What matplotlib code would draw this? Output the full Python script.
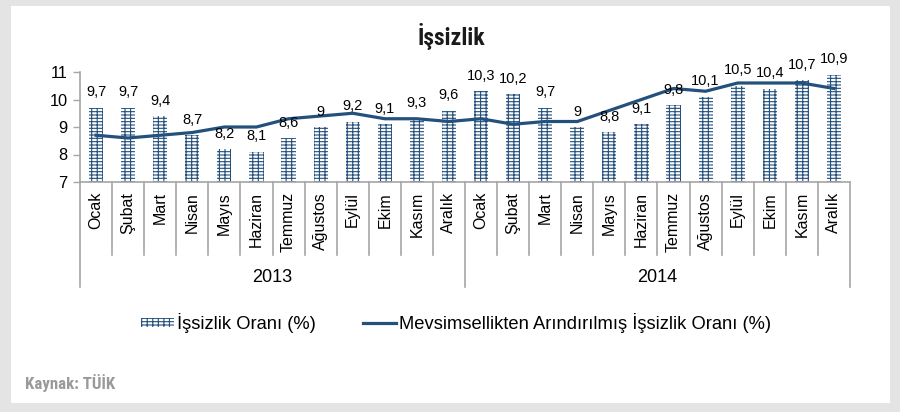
import matplotlib
matplotlib.use("Agg")
import matplotlib.pyplot as plt
from matplotlib.patches import Rectangle, Patch
from matplotlib.lines import Line2D
import matplotlib.transforms as mtransforms
from matplotlib import font_manager

months = ["Ocak", "Şubat", "Mart", "Nisan", "Mayıs", "Haziran", "Temmuz",
          "Ağustos", "Eylül", "Ekim", "Kasım", "Aralık"]
years = ["2013", "2014"]
unemployment = [9.7, 9.7, 9.4, 8.7, 8.2, 8.1, 8.6, 9.0, 9.2, 9.1, 9.3, 9.6,
                10.3, 10.2, 9.7, 9.0, 8.8, 9.1, 9.8, 10.1, 10.5, 10.4, 10.7, 10.9]
seasonal_adj = [8.7, 8.6, 8.7, 8.8, 9.0, 9.0, 9.3, 9.4, 9.5, 9.3, 9.3, 9.2,
                9.3, 9.1, 9.2, 9.2, 9.6, 10.0, 10.4, 10.3, 10.6, 10.6, 10.6, 10.4]
yticks = [7, 8, 9, 10, 11]

plt.rcParams['font.family'] = ['Liberation Sans', 'DejaVu Sans']
plt.rcParams['hatch.linewidth'] = 0.8

names = {f.name for f in font_manager.fontManager.ttflist}
cond = "DejaVu Sans"
for cand in ["Roboto Condensed", "Archivo Narrow", "PT Sans Narrow",
             "Barlow Condensed", "Barlow Semi Condensed", "Sofia Sans Condensed"]:
    if cand in names:
        cond = cand
        break

BLUE = "#24507c"
GRID = "#a6a6a6"

fig = plt.figure(figsize=(9, 4.12), dpi=100)
fig.patch.set_facecolor("#e4e4e4")
fig.patches.append(Rectangle((11/900, 1-403/412), (890-11)/900, (403-6)/412,
                             transform=fig.transFigure, facecolor="white",
                             edgecolor="none", zorder=-5))

ax = fig.add_axes([80/900, 1-182/412, 770/900, 110/412])
ax.set_facecolor("none")
ax.set_zorder(2)

labels_all = months * len(years)
x = list(range(len(labels_all)))

bars = ax.bar(x, unemployment, width=0.44, bottom=0, color="white",
              edgecolor=BLUE, linewidth=0, hatch="+++--", zorder=2)
ax.plot(x, seasonal_adj, color=BLUE, linewidth=2.3, zorder=3)

for xi, v in zip(x, unemployment):
    s = ("%g" % v).replace(".", ",")
    ax.annotate(s, (xi, v), xytext=(0, 6), textcoords="offset points",
                ha="center", va="bottom", fontsize=10.5, color="black", zorder=4)

ax.set_xlim(-0.5, len(x) - 0.5)
ax.set_ylim(7, 11)
ax.set_yticks(yticks)
ax.set_yticklabels([str(t) for t in yticks], fontsize=11.8)
ax.tick_params(axis="y", length=5, width=1, color=GRID, pad=4)
ax.set_xticks([])
for s in ["top", "right"]:
    ax.spines[s].set_visible(False)
ax.spines["left"].set_color(GRID)
ax.spines["bottom"].set_color(GRID)
ax.spines["left"].set_linewidth(1.2)
ax.spines["bottom"].set_linewidth(1.2)

trans = mtransforms.blended_transform_factory(ax.transData, ax.transAxes)
n = len(months)
for i in range(len(x) + 1):
    xb = i - 0.5
    low = -0.955 if i % n == 0 else -0.66
    ax.plot([xb, xb], [0, low], transform=trans, color=GRID, linewidth=1.2,
            clip_on=False, zorder=1)

for xi, lab in zip(x, labels_all):
    ax.text(xi, -0.09, lab, transform=trans, rotation=90, ha="center",
            va="top", fontsize=11.5, color="black")

for j, yr in enumerate(years):
    ax.text(j * n + (n - 1) / 2, -0.864, yr, transform=trans, ha="center",
            va="center", fontsize=13, color="black")

fig.text(451/900, 1-37/412, "İşsizlik", ha="center", va="center",
         fontsize=17, fontweight="bold", family=[cond, "DejaVu Sans"],
         color="#1a1a1a")

fig.text(25/900, 1-383/412, "Kaynak: TÜİK", ha="left", va="center",
         fontsize=12.2, fontweight="bold", family=[cond, "DejaVu Sans"],
         color="#9a9a9a")

handles = [Patch(facecolor="white", edgecolor=BLUE, linewidth=0, hatch="+++--"),
           Line2D([0], [0], color=BLUE, linewidth=2.3)]
leg = fig.legend(handles, ["İşsizlik Oranı (%)",
                           "Mevsimsellikten Arındırılmış İşsizlik Oranı (%)"],
                 loc="center", bbox_to_anchor=(456/900, 1-323/412), ncol=2,
                 frameon=False, fontsize=13.2, handlelength=1.8,
                 handleheight=0.4, handletextpad=0.15, columnspacing=2.6)

fig.savefig("out.png", dpi=100, facecolor=fig.get_facecolor())
